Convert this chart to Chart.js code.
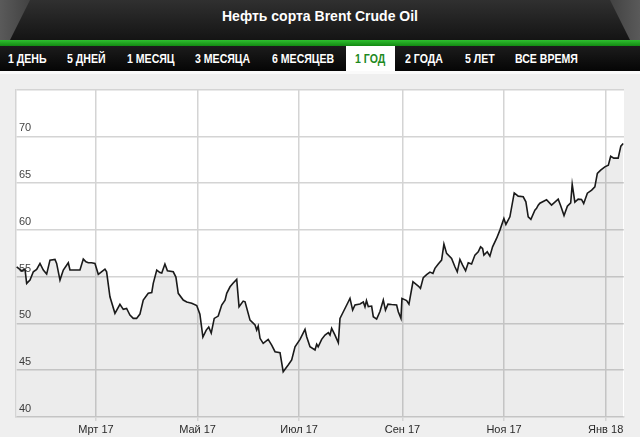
<!DOCTYPE html>
<html>
<head>
<meta charset="utf-8">
<script src="https://cdn.jsdelivr.net/npm/chart.js@4.4.1/dist/chart.umd.min.js"></script>
<style>
  body { margin: 0; width: 640px; height: 437px; overflow: hidden; background: #efefef; font-family: "Liberation Sans", Arial, sans-serif; }
  .head { position: absolute; left: 0; top: 0; width: 640px; height: 40px; background: linear-gradient(#303030, #141414); overflow: hidden; }
  .head .cl, .head .cr { position: absolute; top: 0; height: 40px; width: 60px; }
  .head .cl { left: 0; background: linear-gradient(90deg, #5a5a5a, #2a2a2a); clip-path: polygon(0 0, 30px 0, 10px 40px, 0 40px); }
  .head .cr { right: 0; background: linear-gradient(270deg, #5a5a5a, #2a2a2a); clip-path: polygon(30px 0, 60px 0, 60px 40px, 50px 40px); }
  .head .title { position: absolute; left: 0; right: 0; top: 8px; text-align: center; color: #fff; font-weight: bold; font-size: 14px; }
  .green { position: absolute; left: 0; top: 40px; width: 640px; height: 6px; background: linear-gradient(#2fbf2f, #138a13); }
  .nav { position: absolute; left: 0; top: 46px; width: 640px; height: 25px; background: linear-gradient(#1c1c1c, #050505); }
  .nav span { position: absolute; top: 6px; color: #fff; font-weight: bold; font-size: 12px; white-space: nowrap; transform: scaleX(0.88); transform-origin: left center; }
  .nav .act { top: 0; height: 26px; background: #fff; }
  .nav .act span { color: #1f8a1f; top: 6px; left: 9px; }
  .line2 { position: absolute; left: 0; top: 71px; width: 640px; height: 3px; background: #fafafa; }
  #wrap { position: absolute; left: 0; top: 80px; width: 640px; height: 357px; }
</style>
</head>
<body>
<div class="head"><div class="cl"></div><div class="cr"></div><div class="title">Нефть сорта Brent Crude Oil</div></div>
<div class="green"></div>
<div class="nav">
  <span style="left:8px">1 ДЕНЬ</span>
  <span style="left:67px">5 ДНЕЙ</span>
  <span style="left:127px">1 МЕСЯЦ</span>
  <span style="left:195px">3 МЕСЯЦА</span>
  <span style="left:272px">6 МЕСЯЦЕВ</span>
  <div class="act" style="position:absolute;left:346px;width:49px"><span>1 ГОД</span></div>
  <span style="left:405px">2 ГОДА</span>
  <span style="left:465px">5 ЛЕТ</span>
  <span style="left:515px">ВСЕ ВРЕМЯ</span>
</div>
<div class="line2"></div>
<div id="wrap"><canvas id="chart-brent" width="640" height="357"></canvas></div>
<script>
// days counted from 12 Jan 2017
let days = [
  0.4, 3.4, 5.4, 6.4, 8.4, 10.4, 12.4, 14.4, 16.4, 18.4,
  20.4, 23.4, 24.4, 26.4, 28.4, 31.4, 32.4, 38.4, 40.4, 42,
  43.4, 45.4, 47.4, 49.4, 53.4, 54.4, 56.4, 59.4, 62.4, 64.4,
  66.4, 67.4, 68.4, 70.4, 72.4, 74.4, 76.4, 79.4, 81.5, 82.4,
  84.5, 86.4, 87.5, 89.4, 90.9, 94.4, 96, 97.4, 100.4, 102.5,
  105.5, 108.5, 110.4, 112.2, 114.2, 115.7, 117.2, 119, 121.4, 123.5,
  125.5, 126.5, 128.5, 130.4, 132.5, 133.9, 136.4, 137.5, 140.5, 143.5,
  144.5, 145.4, 146.5, 148.4, 151.4, 153.5, 155.5, 158.5, 160.4, 163.4,
  165.5, 167.5, 170.5, 173.5, 174.5, 176.5, 179.5, 180.5, 181.4, 183.5,
  185.5, 187.5, 188.5, 189.5, 191.5, 193.5, 194.5, 196.5, 199.5, 200.5,
  202.1, 203.5, 206.5, 208.5, 209.5, 210.4, 211.5, 213.5, 214.5, 216.5,
  218.5, 220.5, 221.8, 223.3, 225.5, 228.5, 229.5, 231.1, 231.7, 234.5,
  235.9, 238.3, 241.5, 242.8, 244.5, 246.5, 248.5, 250.3, 251.5, 253.5,
  255.5, 256.9, 258.5, 261.5, 263.5, 264.9, 266.5, 268.1, 269.9, 271.5,
  273.5, 275.5, 277.5, 278.9, 280.1, 280.9, 282.9, 284.5, 286.1, 288.5,
  290.5, 292.9, 294.1, 296.5, 299.1, 301.5, 304.5, 306.1, 307.5, 309.1,
  311.5, 312.5, 313.5, 314.5, 318.5, 321.5, 325.5, 327.1, 329, 331,
  333, 333.9, 335.5, 337.5, 339.5, 340.8, 343, 345.6, 347.5, 349,
  351, 353.5, 355.6, 357, 358.9, 361.5, 363.1, 364.5
];

let prices = [
  56.06, 55.63, 55.81, 54.28, 54.64, 55.52, 55.78, 56.42, 55.71, 55.28,
  56.77, 56.85, 56.42, 54.64, 55.71, 56.49, 55.71, 55.71, 56.88, 56.59,
  56.49, 56.49, 56.42, 55.25, 55.81, 55.52, 52.85, 51.08, 52.04, 51.51,
  51.61, 51.25, 50.90, 50.54, 50.54, 51.0, 52.5, 53.22, 53.3, 54.28,
  55.71, 55.44, 55.38, 56.35, 55.63, 55.52, 54.96, 53.22, 52.5, 52.29,
  52.15, 51.91, 51.0, 48.55, 49.29, 49.62, 48.97, 50.54, 50.79, 51.97,
  52.5, 53.22, 53.92, 54.32, 54.71, 51.78, 52.39, 52.32, 50.36, 49.83,
  49.29, 49.72, 48.41, 47.87, 48.3, 47.69, 46.98, 46.87, 44.84, 45.56,
  46.09, 47.51, 48.3, 49.37, 48.58, 47.51, 47.16, 47.77, 47.51, 48.3,
  48.76, 49.01, 48.76, 49.48, 48.76, 47.94, 50.54, 51.25, 52.32, 52.68,
  51.43, 51.97, 52.09, 52.29, 51.78, 52.45, 51.8, 51.86, 50.72, 50.47,
  51.27, 52.5, 51.43, 52.07, 52.02, 51.97, 51.25, 50.54, 52.68, 52.45,
  52.07, 54.46, 54.0, 53.75, 54.9, 55.22, 55.49, 55.35, 55.89, 56.35,
  56.77, 58.48, 57.49, 56.96, 56.06, 55.52, 56.85, 56.24, 55.63, 56.49,
  56.35, 57.31, 57.66, 58.19, 58.02, 57.31, 57.66, 57.2, 58.19, 59.09,
  59.98, 61.23, 60.59, 61.4, 63.96, 63.61, 63.54, 63.0, 61.4, 61.12,
  62.12, 62.3, 62.65, 62.86, 63.22, 62.65, 63.29, 62.54, 61.53, 62.54,
  62.9, 64.89, 62.97, 63.29, 63.26, 62.83, 63.93, 64.25, 64.6, 66.04,
  66.39, 66.74, 66.92, 67.88, 67.67, 67.67, 68.95, 69.24
];

let monthDays = [48, 109, 170, 232, 293, 354];
let monthLabels = ["Мрт 17", "Май 17", "Июл 17", "Сен 17", "Ноя 17", "Янв 18"];

let points = days.map(function (d, i) {
  return { x: d, y: prices[i] };
});

let plotBg = {
  id: "plotBg",
  beforeDraw: function (chart) {
    let a = chart.chartArea;
    let ctx = chart.ctx;
    ctx.save();
    ctx.fillStyle = "#ffffff";
    ctx.fillRect(a.left, a.top, a.right - a.left, a.bottom - a.top);
    ctx.restore();
  },
};

new Chart(document.getElementById("chart-brent").getContext("2d"), {
  type: "line",
  data: {
    datasets: [
      {
        data: points,
        borderColor: "#1a1a1a",
        borderWidth: 1.6,
        backgroundColor: "rgba(0,0,0,0.075)",
        fill: "start",
        pointRadius: 0,
        tension: 0,
      },
    ],
  },
  options: {
    responsive: false,
    animation: false,
    layout: { padding: { left: 16, right: 16, top: 9, bottom: 0 } },
    plugins: { legend: { display: false }, tooltip: { enabled: false } },
    scales: {
      x: {
        type: "linear",
        min: 0,
        max: 365,
        afterBuildTicks: function (scale) {
          scale.ticks = monthDays.map(function (d) { return { value: d }; });
        },
        afterFit: function (scale) { scale.height = 20; },
        ticks: {
          autoSkip: false,
          maxRotation: 0,
          padding: 2,
          color: "#2a2a2a",
          font: { family: "Liberation Sans", size: 11 },
          callback: function (v) {
            let i = monthDays.indexOf(v);
            return i >= 0 ? monthLabels[i] : "";
          },
        },
        grid: { color: "#d4d4d4", lineWidth: 1.5, tickLength: 4 },
        border: { color: "#d4d4d4", width: 1.5 },
      },
      y: {
        min: 40,
        max: 75,
        afterFit: function (scale) { scale.width = 0; },
        ticks: {
          stepSize: 5,
          mirror: true,
          padding: 3,
          labelOffset: -8,
          color: "#444",
          font: { family: "Liberation Sans", size: 11 },
          callback: function (v) { return v === 75 ? "" : v; },
        },
        grid: { color: "#d4d4d4", lineWidth: 1.5, drawTicks: false },
        border: { color: "#d4d4d4", width: 1.5 },
      },
    },
  },
  plugins: [plotBg],
});
</script>
</body>
</html>
